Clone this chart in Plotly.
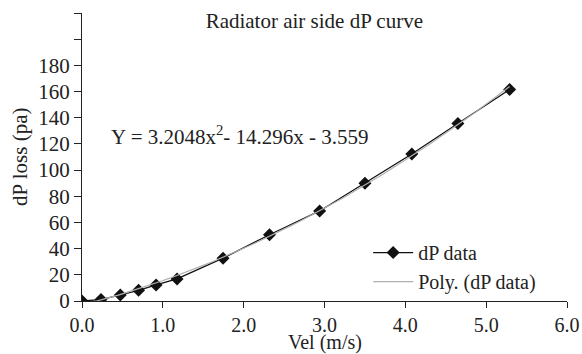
import numpy as np
import plotly.graph_objects as go

vel = [0.0, 0.235, 0.474, 0.70, 0.916, 1.176, 1.745, 2.32, 2.94, 3.50, 4.08, 4.65, 5.29]
dp = [0.0, 1.1, 4.6, 8.2, 12.3, 16.9, 32.7, 50.6, 68.8, 90.0, 112.3, 135.6, 161.6]

y_ticks = [0, 20, 40, 60, 80, 100, 120, 140, 160, 180, 200, 220]
y_labels = ["0", "20", "40", "60", "80", "100", "120", "140", "160", "180", "", ""]
x_ticks = [0, 1, 2, 3, 4, 5, 6]
x_labels = ["0.0", "1.0", "2.0", "3.0", "4.0", "5.0", "6.0"]

# degree-2 trendline fitted to the data (as the spreadsheet trendline does)
coef = np.polyfit(vel, dp, 2)
fit_x = np.linspace(min(vel), max(vel), 60)
fit_y = np.polyval(coef, fit_x)

FONT = "Liberation Serif, Times New Roman, serif"
TXT = "#222222"
FS = 21

fig = go.Figure()
fig.add_trace(go.Scatter(
    x=vel, y=dp, mode="lines+markers", name="dP data",
    line=dict(color="#111111", width=1.3),
    marker=dict(symbol="diamond", size=10, color="#111111"),
))
fig.add_trace(go.Scatter(
    x=fit_x, y=fit_y, mode="lines", name="Poly. (dP data)",
    line=dict(color="#b0b0b0", width=1.2),
))

fig.update_layout(
    width=582, height=354,
    margin=dict(l=82, r=15, t=13, b=53, autoexpand=False),
    paper_bgcolor="white", plot_bgcolor="white",
    font=dict(family=FONT, size=FS, color=TXT),
    title=dict(text="Radiator air side dP curve", x=0.479, xref="paper", xanchor="center",
               y=1 - 21 / 354, yref="container", yanchor="middle",
               font=dict(family=FONT, size=FS, color=TXT)),
    showlegend=True,
    legend=dict(x=0.59, y=0.236, xanchor="left", yanchor="top", bgcolor="rgba(0,0,0,0)",
                font=dict(family=FONT, size=20, color=TXT), tracegroupgap=0,
                itemwidth=40),
    xaxis=dict(range=[0, 6], tickvals=x_ticks, ticktext=x_labels, automargin=False,
               showgrid=False, zeroline=False, showline=True, linecolor="#222", linewidth=1,
               ticks="outside", ticklen=6, tickcolor="#222",
               tickfont=dict(family=FONT, size=20, color=TXT)),
    yaxis=dict(range=[0, 220], tickvals=y_ticks, ticktext=y_labels, automargin=False,
               showgrid=False, zeroline=False, showline=True, linecolor="#222", linewidth=1,
               ticks="outside", ticklen=7, tickcolor="#222"),
    annotations=[
        dict(text="Y = 3.2048x<sup>2</sup>- 14.296x - 3.559", x=1.96, y=126.7, xref="x", yref="y",
             showarrow=False, xanchor="center", yanchor="middle",
             font=dict(family=FONT, size=FS, color=TXT)),
        dict(text="Vel (m/s)", x=0.5, y=-0.1445, xref="paper", yref="paper",
             showarrow=False, xanchor="center", yanchor="middle",
             font=dict(family=FONT, size=20, color=TXT)),
        dict(text="dP loss (pa)", x=-0.128, y=0.5, xref="paper", yref="paper", textangle=-90,
             showarrow=False, xanchor="center", yanchor="middle",
             font=dict(family=FONT, size=FS, color=TXT)),
    ],
)

fig.write_html("out.html")
